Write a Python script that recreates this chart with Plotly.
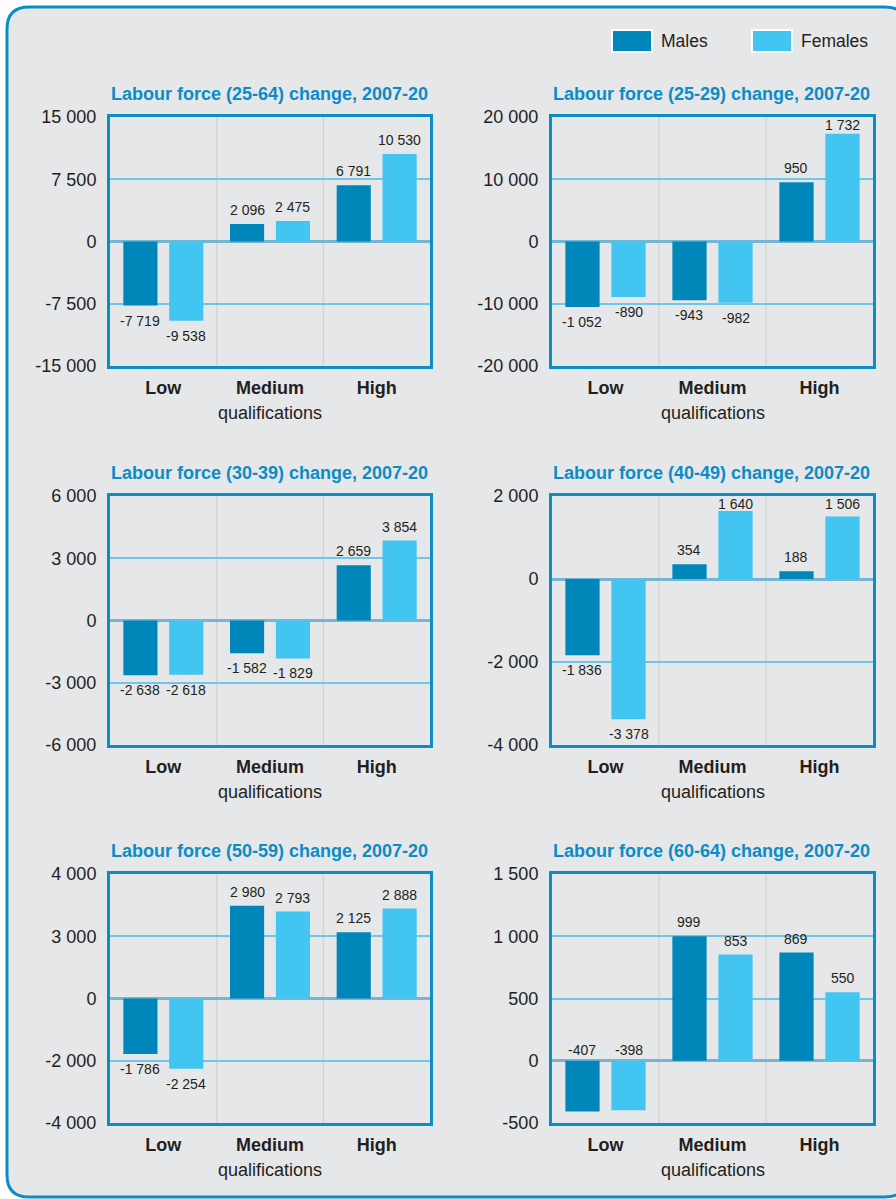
import plotly.graph_objects as go

# ---- data ----
categories = ["Low", "Medium", "High"]
series_names = ["Males", "Females"]
panel_titles = [
    "Labour force (25-64) change, 2007-20",
    "Labour force (25-29) change, 2007-20",
    "Labour force (30-39) change, 2007-20",
    "Labour force (40-49) change, 2007-20",
    "Labour force (50-59) change, 2007-20",
    "Labour force (60-64) change, 2007-20",
]
males = [
    [-7719, 2096, 6791],
    [-1052, -943, 950],
    [-2638, -1582, 2659],
    [-1836, 354, 188],
    [-1786, 2980, 2125],
    [-407, 999, 869],
]
females = [
    [-9538, 2475, 10530],
    [-890, -982, 1732],
    [-2618, -1829, 3854],
    [-3378, 1640, 1506],
    [-2254, 2793, 2888],
    [-398, 853, 550],
]
y_tick_values = [
    [-15000, -7500, 0, 7500, 15000],
    [-2000, -1000, 0, 1000, 2000],
    [-6000, -3000, 0, 3000, 6000],
    [-4000, -2000, 0, 2000],
    [-4000, -2000, 0, 2000, 4000],
    [-500, 0, 500, 1000, 1500],
]
y_tick_labels = [
    ["-15 000", "-7 500", "0", "7 500", "15 000"],
    ["-20 000", "-10 000", "0", "10 000", "20 000"],
    ["-6 000", "-3 000", "0", "3 000", "6 000"],
    ["-4 000", "-2 000", "0", "2 000"],
    ["-4 000", "-2 000", "0", "3 000", "4 000"],
    ["-500", "0", "500", "1 000", "1 500"],
]
# panels whose negative value labels sit above the zero line
labels_above_zero = [False, False, False, False, False, True]
axis_title = "qualifications"

# ---- style ----
W, H = 896, 1199
MALE_C = "#0086b8"
FEMALE_C = "#43c5f1"
FRAME_C = "#0b8ec4"
TITLE_C = "#0b8cc6"
TEXT_C = "#231f20"
PANEL_BG = "#e6e7e9"
GRID_C = "#6ec6ea"
ZERO_C = "#74b6d4"
VSEP_C = "#d3d4d6"
FONT = "Liberation Sans, Arial, sans-serif"

cols = [(110, 430), (552, 873)]
rows = [(117, 366), (496, 745), (874, 1123)]


def fx(px):
    return px / W


def fy(py):
    return 1 - py / H


def fmt(v):
    return f"{v:,}".replace(",", " ")


fig = go.Figure()
layout = dict(
    width=W, height=H, margin=dict(l=0, r=0, t=0, b=0, autoexpand=False),
    paper_bgcolor="white", plot_bgcolor="white",
    showlegend=False, barmode="overlay",
    font=dict(family=FONT, color=TEXT_C),
)
shapes = []
annotations = []

# rounded background panel
L, T, R, B, r = 7, 7, 907, 1197, 22
path = (
    f"M {fx(L)},{fy(T + r)} Q {fx(L)},{fy(T)} {fx(L + r)},{fy(T)} "
    f"L {fx(R - r)},{fy(T)} Q {fx(R)},{fy(T)} {fx(R)},{fy(T + r)} "
    f"L {fx(R)},{fy(B - r)} Q {fx(R)},{fy(B)} {fx(R - r)},{fy(B)} "
    f"L {fx(L + r)},{fy(B)} Q {fx(L)},{fy(B)} {fx(L)},{fy(B - r)} Z"
)
shapes.append(dict(type="path", xref="paper", yref="paper", path=path,
                   fillcolor=PANEL_BG, line=dict(color=FRAME_C, width=3),
                   layer="below"))

offsets = [-0.375, 0.055]
bar_w = 0.32
centers = [-0.215, 0.215]

for k in range(6):
    ri, ci = divmod(k, 2)
    x0, x1 = cols[ci]
    y0, y1 = rows[ri]
    n = k + 1
    xa = "x" if n == 1 else f"x{n}"
    ya = "y" if n == 1 else f"y{n}"
    xkey = "xaxis" if n == 1 else f"xaxis{n}"
    ykey = "yaxis" if n == 1 else f"yaxis{n}"
    ticks = y_tick_values[k]
    ymin, ymax = ticks[0], ticks[-1]
    px_per_unit = (y1 - y0) / (ymax - ymin)

    for s, (vals, col) in enumerate([(males[k], MALE_C), (females[k], FEMALE_C)]):
        fig.add_trace(go.Bar(
            x=[0, 1, 2], y=vals, width=bar_w, offset=offsets[s],
            marker=dict(color=col, line=dict(width=0)),
            name=series_names[s], xaxis=xa, yaxis=ya, hoverinfo="skip",
        ))
        for i, v in enumerate(vals):
            if v >= 0:
                # keep labels of tall bars inside the frame
                headroom = (ymax - v) * px_per_unit
                yy, anc, sh = v, "bottom", min(4, headroom - 18)
            elif labels_above_zero[k]:
                yy, anc, sh = 0, "bottom", 1
            else:
                yy, anc, sh = v, "top", -5
            annotations.append(dict(
                x=i + centers[s], y=yy, xref=xa, yref=ya, text=fmt(v),
                showarrow=False, yanchor=anc, yshift=sh,
                font=dict(family=FONT, size=14, color=TEXT_C),
            ))

    layout[xkey] = dict(
        domain=[fx(x0), fx(x1)], anchor=ya, range=[-0.5, 2.5],
        tickvals=[0, 1, 2], ticktext=[f"<b>{c}</b>" for c in categories],
        tickfont=dict(family=FONT, size=18, color=TEXT_C),
        ticks="outside", ticklen=3, tickcolor="rgba(0,0,0,0)",
        showgrid=False, zeroline=False, fixedrange=True, automargin=False,
        showline=True, mirror=True, linecolor=FRAME_C, linewidth=3,
    )
    layout[ykey] = dict(
        domain=[fy(y1), fy(y0)], anchor=xa, range=[ymin, ymax],
        tickvals=ticks, ticktext=y_tick_labels[k],
        tickfont=dict(family=FONT, size=18, color=TEXT_C),
        ticks="outside", ticklen=7, tickcolor="rgba(0,0,0,0)",
        showgrid=True, gridcolor=GRID_C, gridwidth=1.5,
        zeroline=True, zerolinecolor=ZERO_C, zerolinewidth=3,
        showline=True, mirror=True, linecolor=FRAME_C, linewidth=3,
        fixedrange=True, automargin=False,
    )
    # category separators
    for xs in (0.5, 1.5):
        shapes.append(dict(type="line", xref=xa, yref=f"{ya} domain",
                           x0=xs, x1=xs, y0=0, y1=1,
                           line=dict(color=VSEP_C, width=1.5), layer="below"))
    # panel title
    annotations.append(dict(
        x=fx(x0 - 1), y=fy(y0 - 23), xref="paper", yref="paper",
        text=f"<b>{panel_titles[k]}</b>", showarrow=False,
        xanchor="left", yanchor="middle",
        font=dict(family=FONT, size=18, color=TITLE_C),
    ))
    # axis caption under the middle category
    annotations.append(dict(
        x=1, y=fy(y1 + 47), xref=xa, yref="paper", text=axis_title,
        showarrow=False, xanchor="center", yanchor="middle",
        font=dict(family=FONT, size=18, color=TEXT_C),
    ))

# legend swatches
legend_items = [(612, MALE_C), (752, FEMALE_C)]
for (lx, col), name in zip(legend_items, series_names):
    shapes.append(dict(type="rect", xref="paper", yref="paper",
                       x0=fx(lx), x1=fx(lx + 40), y0=fy(52), y1=fy(30),
                       fillcolor=col, line=dict(color="white", width=2)))
    annotations.append(dict(
        x=fx(lx + 47), y=fy(41), xref="paper", yref="paper", text=name,
        showarrow=False, xanchor="left", yanchor="middle",
        font=dict(family=FONT, size=17.5, color=TEXT_C),
    ))

layout["shapes"] = shapes
layout["annotations"] = annotations
fig.update_layout(**layout)
fig.write_html(
    "out.html",
    config={"responsive": False},
    post_script="document.body.style.margin='0';document.body.style.overflow='hidden';",
)
